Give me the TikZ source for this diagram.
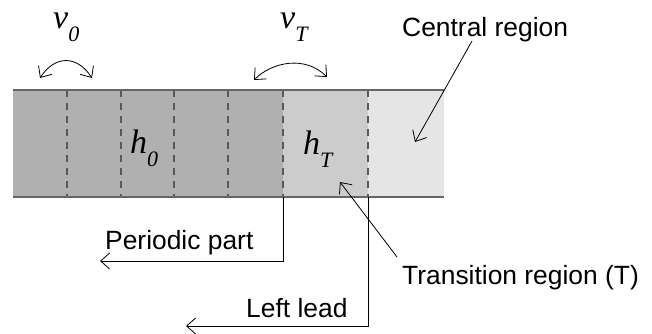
\documentclass[tikz,border=0pt]{standalone}
\usepackage{fontspec}
\setmainfont{Liberation Sans}
\newfontfamily\mathserif{Liberation Serif}
\usetikzlibrary{arrows.meta}
\definecolor{periodic}{gray}{0.69}
\definecolor{transreg}{gray}{0.80}
\definecolor{centralreg}{gray}{0.90}
\definecolor{edgegray}{gray}{0.4}
\definecolor{dashgray}{gray}{0.35}
\tikzset{
  lbl/.style={inner sep=0pt, anchor=base west, font=\fontsize{26.4}{30}\selectfont},
  sym/.style={inner sep=0pt, anchor=base west, font=\fontsize{34}{38}\mathserif\itshape},
  conn/.style={line width=0.8pt, -{Straight Barb[length=9pt,width=16pt]}},
  dbl/.style={line width=0.8pt, {Straight Barb[length=9pt,width=16pt]}-{Straight Barb[length=9pt,width=16pt]}},
  cell/.style={dashgray, line width=1.2pt, dash pattern=on 7pt off 6pt},
}
\newcommand{\subsc}[1]{\raisebox{-13pt}{\fontsize{22}{24}\selectfont #1}}
\begin{document}
\begin{tikzpicture}[x=1pt,y=-1pt]
\useasboundingbox (0,0) rectangle (652,333);
% band
\fill[periodic] (13,90) rectangle (283,197);
\fill[transreg] (283,90) rectangle (368,197);
\fill[centralreg] (368,90) rectangle (444,197);
\foreach \x in {67,121,174,228,283,368}
  \draw[cell] (\x,90) -- (\x,197);
\draw[edgegray, line width=1.2pt] (13,90) -- (444,90);
\draw[edgegray, line width=1.2pt] (13,197) -- (444,197);
% symbols
\node[sym] (v0) at (53,28) {v\subsc{0}};
\node[sym] (vT) at (280,28) {v\subsc{T}};
\node[sym] (h0) at (130,153) {h\subsc{0}};
\node[sym] (hT) at (303,154) {h\subsc{T}};
% hopping arcs
\coordinate (a0l) at (40,78);
\coordinate (a0r) at (92,78);
\coordinate (aTl) at (254,80);
\coordinate (aTr) at (327,77);
\draw[dbl] (a0l) .. controls (55,55) and (77,55) .. (a0r);
\draw[dbl] (aTl) .. controls (272,62) and (305,55) .. (aTr);
% labels
\node[lbl] (central) at (402,36) {Central region};
\node[lbl] (trans) at (402,284) {Transition region (T)};
\node[lbl] (periodicpart) at (105,249) {Periodic part};
\node[lbl] (leftlead) at (246,317) {Left lead};
% connectors
\coordinate (cstart) at (472,41);
\coordinate (cend) at (415,142);
\draw[conn] (cstart) -- (cend);
\coordinate (tstart) at (397,257);
\coordinate (tend) at (340,182);
\draw[conn] (tstart) -- (tend);
\coordinate (p1) at (283,197);
\coordinate (p2) at (283,261);
\coordinate (p3) at (100,261);
\draw[conn] (p1) -- (p2) -- (p3);
\coordinate (l1) at (368,197);
\coordinate (l2) at (368,326);
\coordinate (l3) at (186,326);
\draw[conn] (l1) -- (l2) -- (l3);
\end{tikzpicture}
\end{document}
